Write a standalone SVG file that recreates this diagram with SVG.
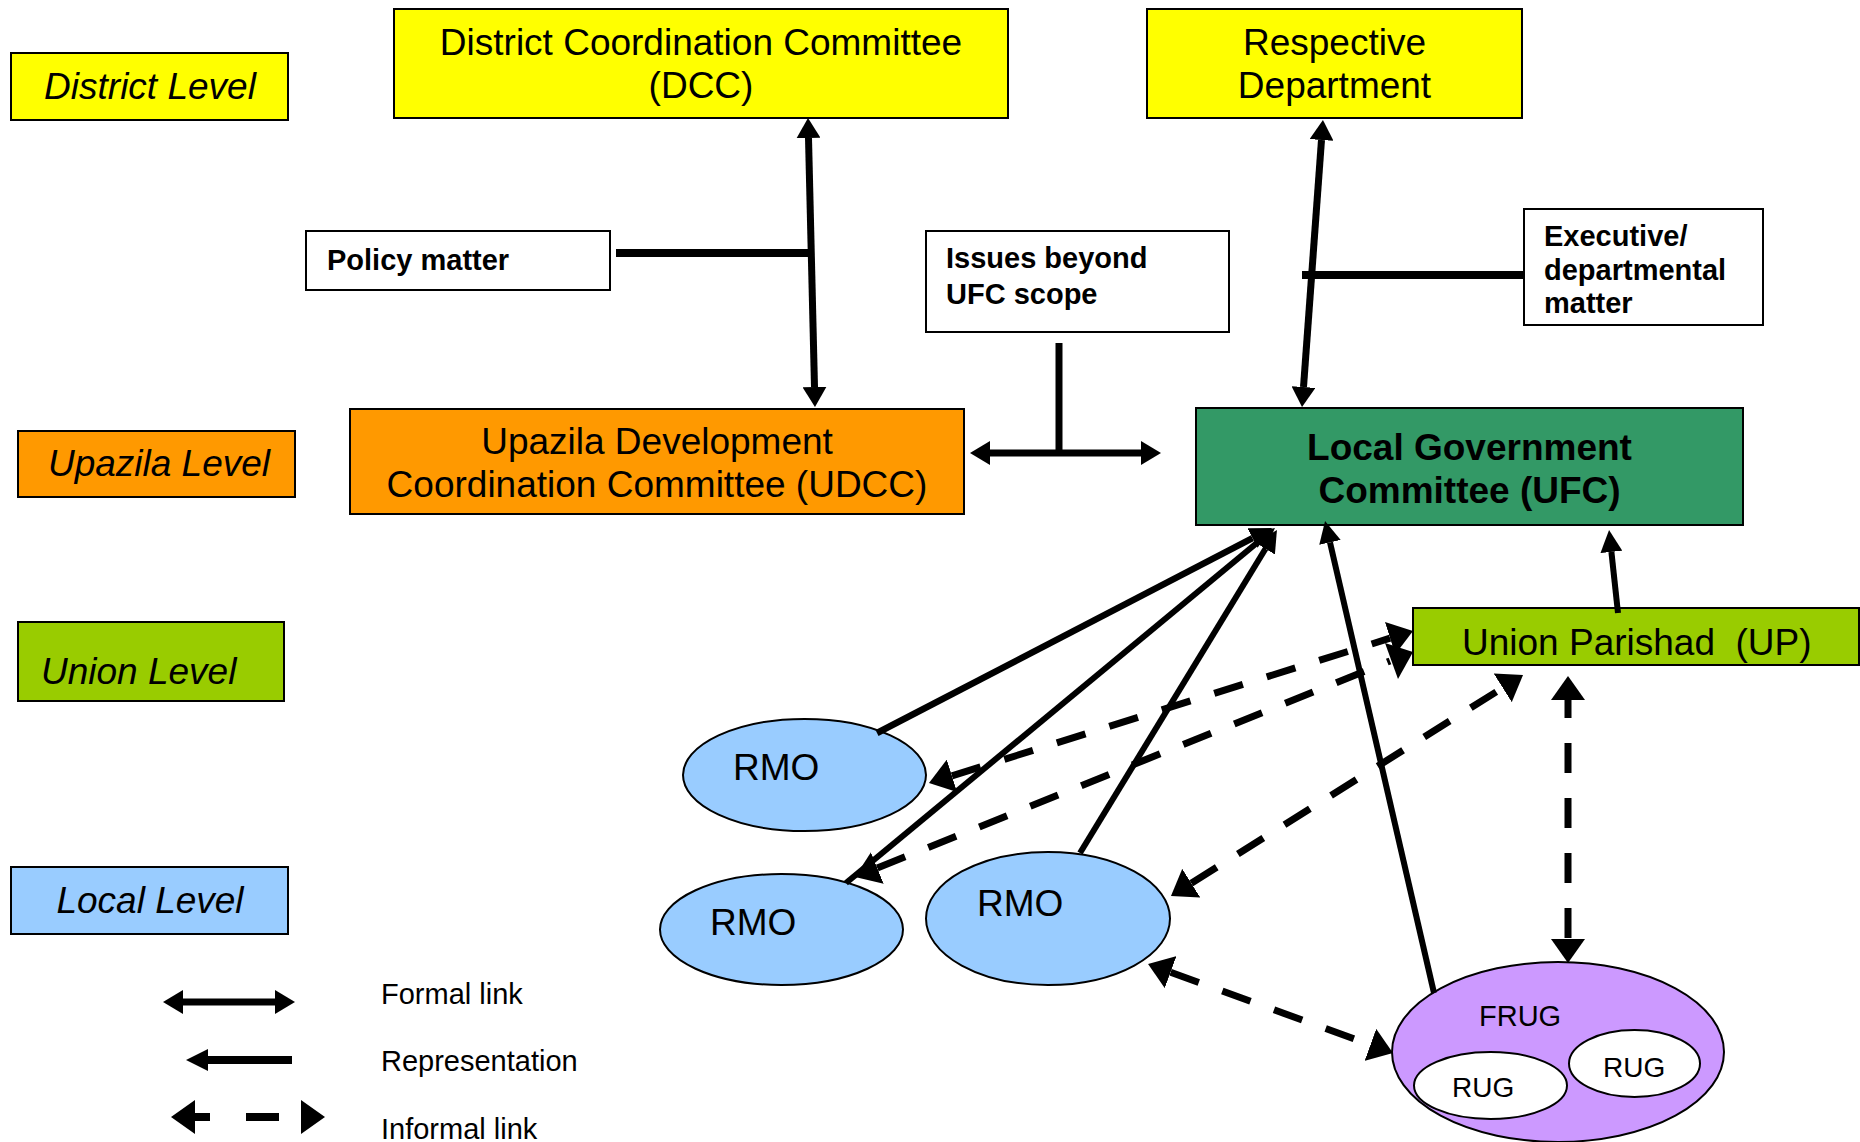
<svg xmlns="http://www.w3.org/2000/svg" width="1860" height="1142" viewBox="0 0 1860 1142">
<style>
text{font-family:"Liberation Sans",Arial,sans-serif;fill:#000}
.box{stroke:#000;stroke-width:2}
.t37{font-size:37px}
.t29{font-size:29px}
.b{font-weight:bold}
.i{font-style:italic}
.m{text-anchor:middle}
.formal{stroke:#000;stroke-width:7;fill:none}
.rep{stroke:#000;stroke-width:6;fill:none}
.inf{stroke:#000;stroke-width:7;fill:none;stroke-dasharray:30 25}
.bar{stroke:#000;stroke-width:8;fill:none}
</style>
<defs>
<marker id="fm" markerUnits="userSpaceOnUse" viewBox="0 0 20 24" refX="0" refY="12" markerWidth="20" markerHeight="24" orient="auto-start-reverse"><path d="M0,0 L20,12 L0,24 z" fill="#000"/></marker>
<marker id="rp" markerUnits="userSpaceOnUse" viewBox="0 0 22 22" refX="0" refY="11" markerWidth="22" markerHeight="22" orient="auto-start-reverse"><path d="M0,0 L22,11 L0,22 z" fill="#000"/></marker>
<marker id="if" markerUnits="userSpaceOnUse" viewBox="0 0 24 34" refX="0" refY="17" markerWidth="24" markerHeight="34" orient="auto-start-reverse"><path d="M0,0 L24,17 L0,34 z" fill="#000"/></marker>
</defs>

<g id="lvl-district"><rect class="box" x="11" y="53" width="277" height="67" fill="#FFFF00"/><text class="t37 i m" x="150" y="99">District Level</text></g>
<g id="lvl-upazila"><rect class="box" x="18" y="431" width="277" height="66" fill="#FF9900"/><text class="t37 i m" x="159" y="476">Upazila Level</text></g>
<g id="lvl-union"><rect class="box" x="18" y="622" width="266" height="79" fill="#99CC00"/><text class="t37 i" x="41" y="684">Union Level</text></g>
<g id="lvl-local"><rect class="box" x="11" y="867" width="277" height="67" fill="#99CCFF"/><text class="t37 i m" x="150" y="913">Local Level</text></g>

<g id="dcc"><rect class="box" x="394" y="9" width="614" height="109" fill="#FFFF00"/><text class="t37 m" x="701" y="55">District Coordination Committee</text><text class="t37 m" x="701" y="98">(DCC)</text></g>
<g id="dept"><rect class="box" x="1147" y="9" width="375" height="109" fill="#FFFF00"/><text class="t37 m" x="1334.5" y="55">Respective</text><text class="t37 m" x="1334.5" y="98">Department</text></g>
<g id="policy"><rect class="box" x="306" y="231" width="304" height="59" fill="#fff"/><text class="t29 b" x="327" y="270">Policy matter</text></g>
<g id="issues"><rect class="box" x="926" y="231" width="303" height="101" fill="#fff"/><text class="t29 b" x="946" y="268">Issues beyond</text><text class="t29 b" x="946" y="304">UFC scope</text></g>
<g id="exec"><rect class="box" x="1524" y="209" width="239" height="116" fill="#fff"/><text class="t29 b" x="1544" y="246">Executive/</text><text class="t29 b" x="1544" y="280">departmental</text><text class="t29 b" x="1544" y="313">matter</text></g>
<g id="udcc"><rect class="box" x="350" y="409" width="614" height="105" fill="#FF9900"/><text class="t37 m" x="657" y="454">Upazila Development</text><text class="t37 m" x="657" y="497">Coordination Committee (UDCC)</text></g>
<g id="ufc"><rect class="box" x="1196" y="408" width="547" height="117" fill="#339966"/><text class="t37 b m" x="1469.5" y="460">Local Government</text><text class="t37 b m" x="1469.5" y="503">Committee (UFC)</text></g>
<g id="up"><rect class="box" x="1413" y="608" width="446" height="57" fill="#99CC00"/><text class="t37" x="1462" y="655" style="white-space:pre">Union Parishad  (UP)</text></g>
<g id="rmo1"><ellipse class="box" cx="804.5" cy="775" rx="121.5" ry="56" fill="#99CCFF"/><text class="t37" x="733" y="780">RMO</text></g>
<g id="rmo2"><ellipse class="box" cx="781.5" cy="929.5" rx="121.5" ry="55.5" fill="#99CCFF"/><text class="t37" x="710" y="935">RMO</text></g>
<g id="rmo3"><ellipse class="box" cx="1048" cy="918.5" rx="122" ry="66.5" fill="#99CCFF"/><text class="t37" x="977" y="916">RMO</text></g>
<g id="frug"><ellipse class="box" cx="1558" cy="1052" rx="166" ry="90" fill="#CC99FF"/><text class="t29" x="1479" y="1026">FRUG</text>
<ellipse class="box" cx="1490.5" cy="1085.5" rx="76.5" ry="33.5" fill="#fff"/><text class="t29" x="1452" y="1097" style="font-size:28px">RUG</text>
<ellipse class="box" cx="1634.5" cy="1063.5" rx="65.5" ry="33.5" fill="#fff"/><text class="t29" x="1603" y="1077" style="font-size:28px">RUG</text></g>

<g id="connectors">
<line class="bar" x1="616" y1="253" x2="811" y2="253"/>
<line class="bar" x1="1302" y1="275" x2="1524" y2="275"/>
<line class="formal" x1="808.5" y1="138" x2="814.5" y2="387" marker-start="url(#fm)" marker-end="url(#fm)"/>
<line class="formal" x1="1321.5" y1="140" x2="1303.5" y2="387" marker-start="url(#fm)" marker-end="url(#fm)"/>
<line class="formal" x1="1059" y1="343" x2="1059" y2="453"/>
<line class="formal" x1="990" y1="453" x2="1141" y2="453" marker-start="url(#fm)" marker-end="url(#fm)"/>
<line class="rep" x1="877" y1="733" x2="1252.5" y2="538.1" marker-end="url(#rp)" style="stroke-width:6.5"/>
<line class="rep" x1="846" y1="883" x2="1258" y2="542" marker-end="url(#rp)"/>
<line class="rep" x1="1080" y1="853" x2="1265.5" y2="548.8" marker-end="url(#rp)"/>
<line class="rep" x1="1434" y1="993" x2="1330" y2="542.4" marker-end="url(#rp)"/>
<line class="rep" x1="1618" y1="613" x2="1611.4" y2="551.9" marker-end="url(#rp)"/>
<line class="inf" x1="951.9" y1="775.8" x2="1390.1" y2="638.2" marker-start="url(#if)" marker-end="url(#if)"/>
<line class="inf" x1="877.3" y1="868.1" x2="1390" y2="661" marker-start="url(#if)"/>
<polygon points="1385,643 1413,652 1398,679" fill="#000"/>
<line class="inf" x1="1191.3" y1="883.2" x2="1502.7" y2="687.8" marker-start="url(#if)" marker-end="url(#if)"/>
<line class="inf" x1="1568" y1="700" x2="1568" y2="939" style="stroke-dashoffset:12" marker-start="url(#if)" marker-end="url(#if)"/>
<line class="inf" x1="1170.6" y1="972.2" x2="1370.4" y2="1044.8" marker-start="url(#if)" marker-end="url(#if)"/>
</g>

<g id="legend">
<line class="formal" x1="183" y1="1002" x2="275" y2="1002" marker-start="url(#fm)" marker-end="url(#fm)"/>
<text class="t29" x="381" y="1004">Formal link</text>
<line class="rep" x1="208" y1="1060" x2="292" y2="1060" style="stroke-width:8" marker-start="url(#rp)"/>
<text class="t29" x="381" y="1071">Representation</text>
<line class="inf" x1="195" y1="1117" x2="301" y2="1117" style="stroke-width:8;stroke-dasharray:15 36 33 22" marker-start="url(#if)" marker-end="url(#if)"/>
<text class="t29" x="381" y="1139">Informal link</text>
</g>
</svg>
